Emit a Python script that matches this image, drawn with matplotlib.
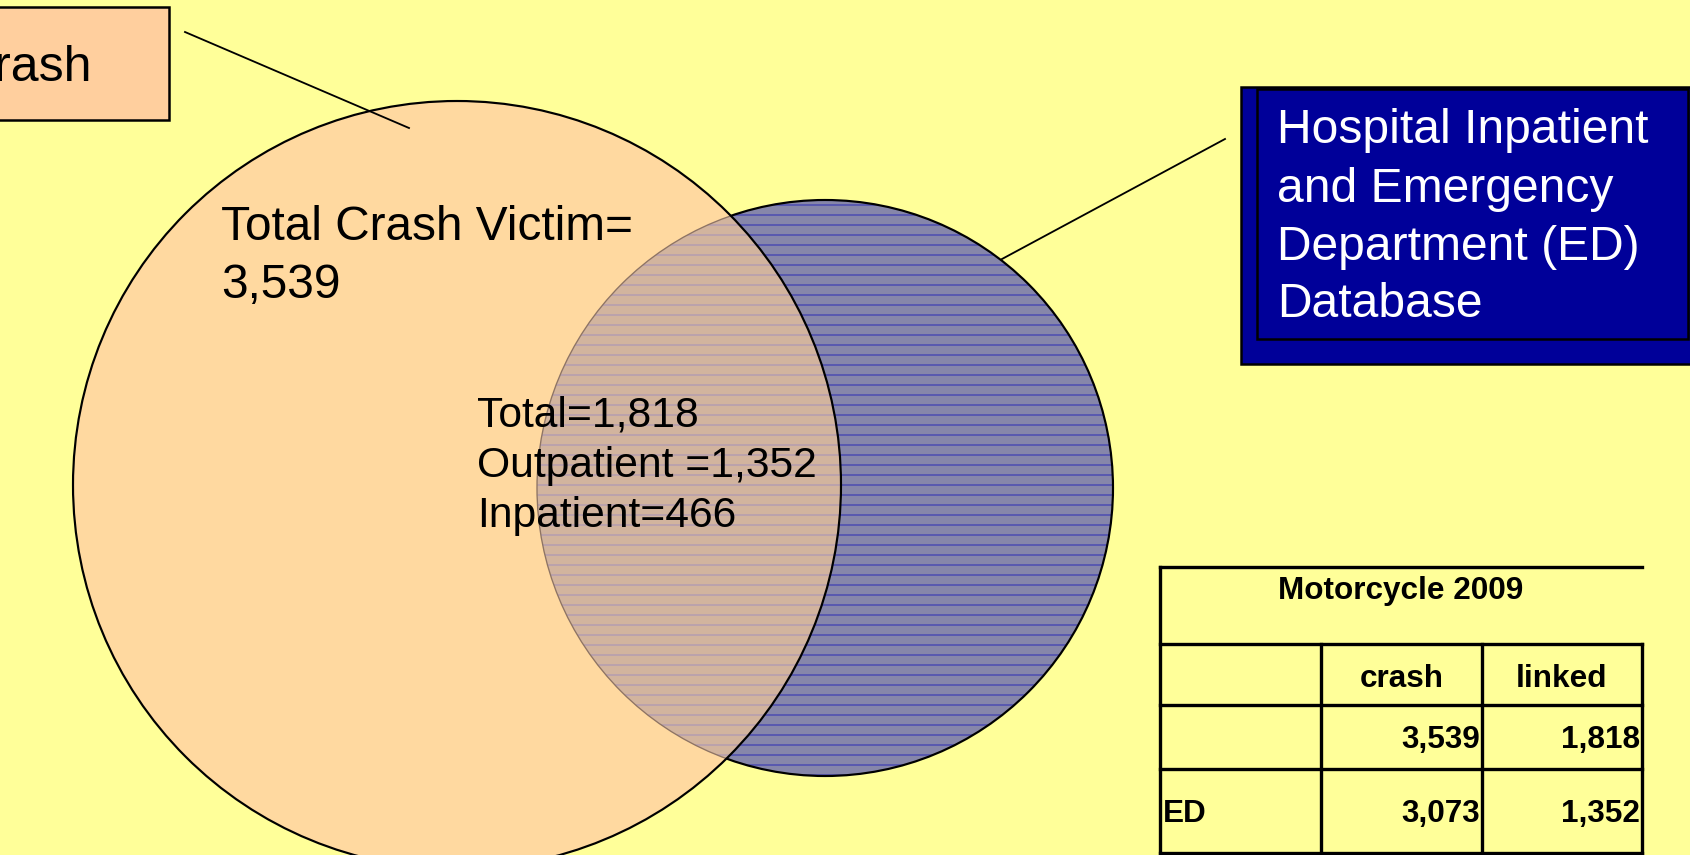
import matplotlib
matplotlib.use("Agg")
import matplotlib.pyplot as plt
from matplotlib.patches import Circle, Rectangle

# ---- data ----
total_crash = 3539
linked_total = 1818
outpatient = 1352
inpatient = 466
table_title = "Motorcycle 2009"
table_cols = ["", "crash", "linked"]
table_rows = ["", "ED"]
crash_vals = [3539, 3073]
linked_vals = [1818, 1352]
crash_box_label = "Crash"
hospital_lines = ["Hospital Inpatient", "and Emergency", "Department (ED)", "Database"]

DPI = 120
W, H = 1690, 855
def fs(px):  # font em height in pixels -> points
    return px * 72.0 / DPI

plt.rcParams['font.family'] = ['Liberation Sans', 'DejaVu Sans']
plt.rcParams['hatch.linewidth'] = 0.6

BG = '#FFFF99'
fig = plt.figure(figsize=(W / DPI, H / DPI), dpi=DPI, facecolor=BG)
ax = fig.add_axes([0, 0, 1, 1])
ax.set_xlim(0, W)
ax.set_ylim(H, 0)
ax.set_aspect('equal')
ax.axis('off')
ax.set_facecolor(BG)

# ---- Venn circles ----
oc = (457, 485); orad = 384   # crash circle
bc = (825, 488); brad = 288   # hospital circle

blue_fill = Circle(bc, brad, facecolor='#8686AA', edgecolor='#2E2EB4', lw=0,
                   hatch='--', zorder=1)
ax.add_patch(blue_fill)
ax.add_patch(Circle(bc, brad, fill=False, edgecolor='black', lw=1.3, zorder=2))

orange_fill = Circle(oc, orad, facecolor='#FFD9A0', edgecolor='none', lw=0, zorder=3)
ax.add_patch(orange_fill)

overlap = Circle(bc, brad, facecolor='#D2B49E', edgecolor='#A592B8', lw=0,
                 hatch='--', zorder=4)
ax.add_patch(overlap)
overlap.set_clip_path(orange_fill)
faint = Circle(bc, brad, fill=False, edgecolor='#8E7464', lw=0.8, zorder=5)
ax.add_patch(faint)
faint.set_clip_path(orange_fill)

ax.add_patch(Circle(oc, orad, fill=False, edgecolor='black', lw=1.3, zorder=6))

# ---- connector lines ----
ax.plot([185, 409], [32, 128], color='black', lw=1.1, zorder=7)
ax.plot([1225, 1002], [139, 259], color='black', lw=1.1, zorder=7)

# ---- crash box (top-left, cut off) ----
ax.add_patch(Rectangle((-20, 7), 189, 113, facecolor='#FFCF9E', edgecolor='black',
                       lw=1.5, zorder=8))
ax.text(92, 81, crash_box_label, ha='right', va='baseline', fontsize=fs(50),
        color='black', zorder=9)

# ---- hospital box ----
ax.add_patch(Rectangle((1241, 87), 480, 277, facecolor='#000099', edgecolor='black',
                       lw=1.5, zorder=8))
ax.add_patch(Rectangle((1257, 89), 431, 250, facecolor='#000099', edgecolor='black',
                       lw=1.5, zorder=8))
for i, line in enumerate(hospital_lines):
    ax.text(1277, [143, 202, 260, 317][i], line, ha='left', va='baseline',
            fontsize=fs(48), color='white', zorder=9)

# ---- Venn texts ----
ax.text(221, 240, "Total Crash Victim=", ha='left', va='baseline', fontsize=fs(47.8), zorder=10)
ax.text(221, 298, f"{total_crash:,}", ha='left', va='baseline', fontsize=fs(47.8), zorder=10)
inner_lines = [f"Total={linked_total:,}", f"Outpatient ={outpatient:,}", f"Inpatient={inpatient:,}"]
for i, line in enumerate(inner_lines):
    ax.text(477, 427 + 50 * i, line, ha='left', va='baseline', fontsize=fs(42.6), zorder=10)

# ---- table ----
tl, tr = 1160, 1642
c1, c2 = 1321, 1482
ytop, yh, yr1, yr2, ybot = 567, 644, 705, 769, 853
tlw = 2.0
ax.plot([tl, tr], [ytop, ytop], color='black', lw=tlw, zorder=9)
for y in (yh, yr1, yr2, ybot):
    ax.plot([tl, tr], [y, y], color='black', lw=tlw, zorder=9)
ax.plot([tl, tl], [ytop, ybot], color='black', lw=tlw, zorder=9)
for x in (c1, c2, tr):
    ax.plot([x, x], [yh, ybot], color='black', lw=tlw, zorder=9)

tfs = fs(31.5)
ax.text((tl + tr) / 2, 599, table_title, ha='center', va='baseline', fontsize=tfs,
        fontweight='bold', zorder=10)
ax.text((c1 + c2) / 2, 687, table_cols[1], ha='center', va='baseline', fontsize=tfs,
        fontweight='bold', zorder=10)
ax.text((c2 + tr) / 2, 687, table_cols[2], ha='center', va='baseline', fontsize=tfs,
        fontweight='bold', zorder=10)
for i, yb in enumerate([748, 822]):
    ax.text(1163, yb, table_rows[i], ha='left', va='baseline', fontsize=tfs,
            fontweight='bold', zorder=10)
    ax.text(c2 - 2, yb, f"{crash_vals[i]:,}", ha='right', va='baseline', fontsize=tfs,
            fontweight='bold', zorder=10)
    ax.text(tr - 2, yb, f"{linked_vals[i]:,}", ha='right', va='baseline', fontsize=tfs,
            fontweight='bold', zorder=10)

fig.savefig("out.png", dpi=DPI, facecolor=BG)
